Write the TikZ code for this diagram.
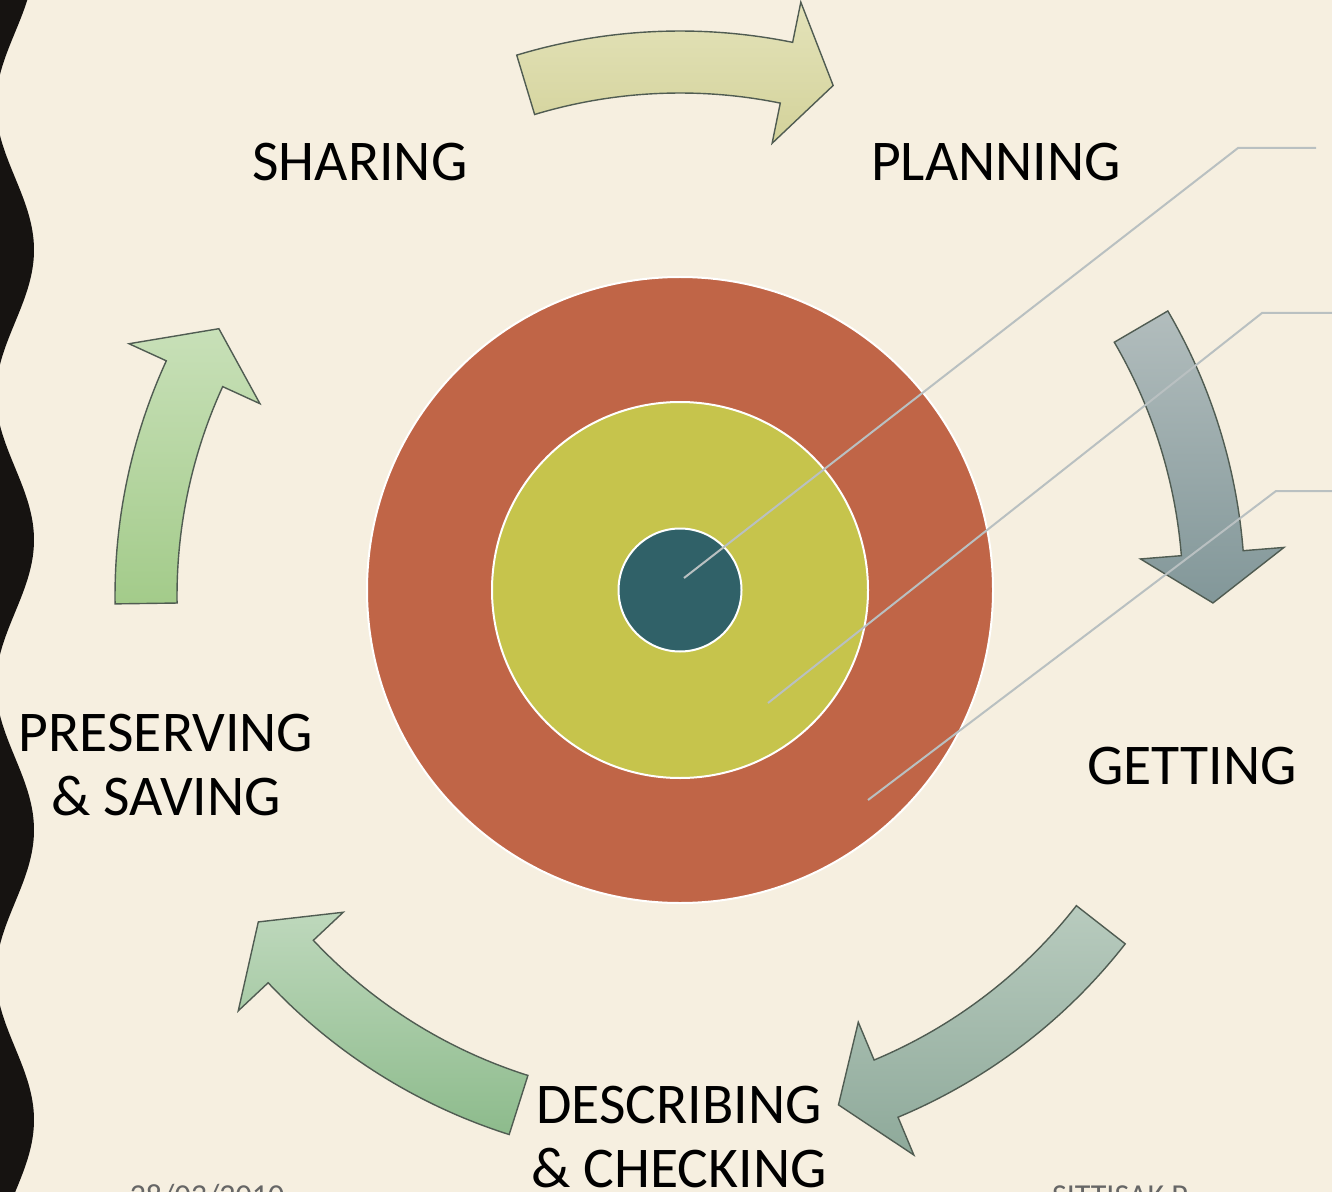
\documentclass[tikz,border=0pt]{standalone}
\usepackage{fontspec}
\setmainfont{Carlito}

\definecolor{paper}{RGB}{246,239,224}
\definecolor{band}{RGB}{22,19,17}
\definecolor{outerring}{RGB}{192,101,71}
\definecolor{middlering}{RGB}{198,196,76}
\definecolor{innerring}{RGB}{48,97,104}
\definecolor{leaderline}{RGB}{185,192,193}
\definecolor{rim}{RGB}{80,92,82}
\definecolor{topA}{RGB}{228,227,186}
\definecolor{botA}{RGB}{211,210,154}
\definecolor{topB}{RGB}{178,189,189}
\definecolor{botB}{RGB}{130,151,153}
\definecolor{topC}{RGB}{184,203,190}
\definecolor{botC}{RGB}{142,169,154}
\definecolor{topD}{RGB}{190,216,188}
\definecolor{botD}{RGB}{141,187,140}
\definecolor{topE}{RGB}{200,224,184}
\definecolor{botE}{RGB}{163,203,138}

\begin{document}
\begin{tikzpicture}[x=0.5pt, y=-0.5pt]
    \tikzset{stage/.style = {anchor=base, inner sep=0pt, align=center, font=\fontsize{28.8}{32}\selectfont}}
    \tikzset{foot/.style = {anchor=base, inner sep=0pt, text=black!60, font=\fontsize{16}{18}\selectfont}}
    \tikzset{ring/.style = {shape=circle, draw=white, line width=1pt, inner sep=0pt}}
    \tikzset{flow/.style = {draw=rim, line width=0.7pt, line join=miter}}
    \tikzset{leader/.style = {draw=leaderline, line width=1pt}}

    % page and wavy border
    \useasboundingbox (0,0) rectangle (1332,1192);
    \fill[paper] (0,0) rectangle (1332,1192);
    \fill[band] (-20,-20) -- plot[domain=-20:1212, samples=300, variable=\t] ({15+19*sin(1.2414*(\t-177.5))}, \t) -- (-20,1212) -- cycle;

    % cycle arrows
    \begin{scope}[shift={(680,596)}]
        \foreach \ta/\tb/\tt/\ctop/\cbot in {-106.8/-78.5/-73.3/topA/botA,
                                             -30.3/-4.6/0.75/topB/botB,
                                             38/67.3/72.7/topC/botC,
                                             107.6/136.8/142.3/topD/botD,
                                             179.2/204.6/210.1/topE/botE}
            \draw[flow, top color=\ctop, bottom color=\cbot]
                (\ta:565) arc[start angle=\ta, end angle=\tb, radius=565]
                -- (\tb:606) -- (\tt:533) -- (\tb:462) -- (\tb:503)
                arc[start angle=\tb, end angle=\ta, radius=503] -- cycle;
    \end{scope}

    % target
    \node[ring, fill=outerring, minimum size=313pt] (outer) at (680,590) {};
    \node[ring, fill=middlering, minimum size=188pt] (middle) at (680,590) {};
    \node[ring, fill=innerring, minimum size=61.5pt] (inner) at (680,590) {};

    % leader lines
    \coordinate (p1) at (684,578);
    \coordinate (k1) at (1238,148);
    \coordinate (e1) at (1316,148);
    \coordinate (p2) at (768,703);
    \coordinate (k2) at (1262,313);
    \coordinate (e2) at (1332,313);
    \coordinate (p3) at (868,800);
    \coordinate (k3) at (1276,491);
    \coordinate (e3) at (1332,491);
    \draw[leader] (p1) -- (k1) -- (e1);
    \draw[leader] (p2) -- (k2) -- (e2);
    \draw[leader] (p3) -- (k3) -- (e3);

    % stages
    \node[stage] (sharing) at (360,181) {SHARING};
    \node[stage] (planning) at (996,181) {PLANNING};
    \node[stage] (getting) at (1192,784) {GETTING};
    \node[stage] (describing) at (679,1187) {DESCRIBING\\\& CHECKING};
    \node[stage] (preserving) at (166,815) {PRESERVING\\\& SAVING};

    \node[foot] (date) at (207,1206) {28/03/2010};
    \node[foot] (author) at (1122,1206) {SITTISAK P.};

\end{tikzpicture}
\end{document}
